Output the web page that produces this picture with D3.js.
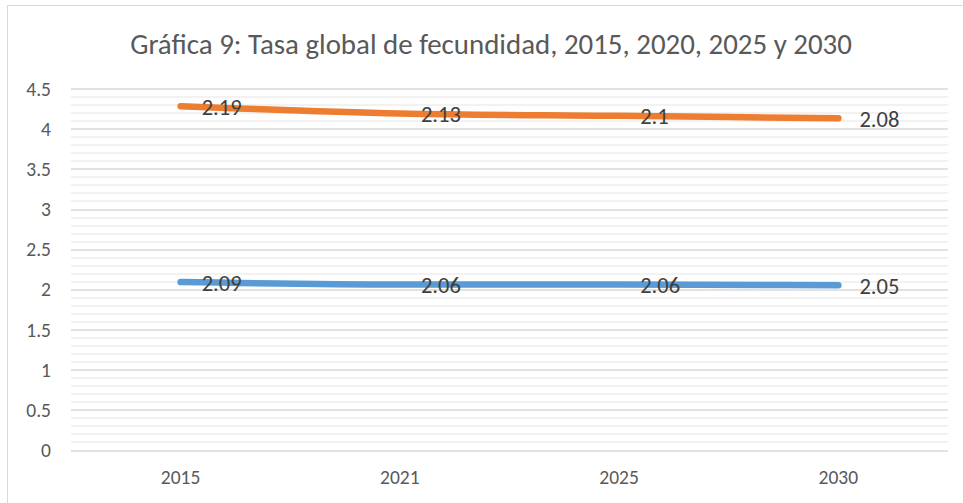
<!DOCTYPE html>
<html>
<head>
<meta charset="utf-8">
<script src="https://cdn.jsdelivr.net/npm/d3@7"></script>
<style>
  body { margin: 0; background: #fff; }
  text { font-family: Carlito, Calibri, Lato, sans-serif; }
</style>
</head>
<body>
<div id="chart"></div>
<script>
var W = 963, H = 503;
var margin = { top: 88.5, right: 15, bottom: 53, left: 71 },
    width = 948 - margin.left,
    height = 450 - margin.top;

var years = ["2015", "2021", "2025", "2030"];
var serieA = [2.09, 2.06, 2.06, 2.05];   // azul
var serieB = [2.19, 2.13, 2.1, 2.08];    // naranja (apilada)
var yTicks = [0, 0.5, 1, 1.5, 2, 2.5, 3, 3.5, 4, 4.5];
var titulo = "Gráfica 9: Tasa global de fecundidad, 2015, 2020, 2025 y 2030";

var svg = d3.select("#chart").append("svg")
    .attr("width", W)
    .attr("height", H);

// ajusta el tamaño de letra para que un texto de muestra tenga el ancho del original
function fitSize(sample, base, target) {
    var tmp = svg.append("text").style("font-size", base + "px").text(sample);
    var w = tmp.node().getComputedTextLength();
    tmp.remove();
    return w > 0 ? base * target / w : base;
}
var tickSize = 19.5;
var labSize = fitSize("2.08", 16, 40);

// marco del grafico
svg.append("rect")
    .attr("x", 7.5).attr("y", 5.5)
    .attr("width", W + 20).attr("height", H + 20)
    .attr("fill", "#fff")
    .attr("stroke", "#d9d9d9");

var g = svg.append("g")
    .attr("transform", "translate(" + margin.left + "," + margin.top + ")");

var x = d3.scaleBand().domain(years).range([0, width]);
var y = d3.scaleLinear().domain([0, 4.5]).range([height, 0]);

// lineas secundarias
var minor = d3.range(0, 45).map(function(i) { return i / 10; }).filter(function(v) { return Math.round(v * 10) % 5 !== 0; });
g.selectAll(".minor").data(minor).enter().append("line")
    .attr("x1", 0).attr("x2", width)
    .attr("y1", function(d) { return Math.round(y(d)) + 0.5; })
    .attr("y2", function(d) { return Math.round(y(d)) + 0.5; })
    .attr("stroke", "#eeeeee").attr("stroke-width", 1.5);

g.selectAll(".major").data(yTicks).enter().append("line")
    .attr("x1", 0).attr("x2", width)
    .attr("y1", function(d) { return Math.round(y(d)) + 0.5; })
    .attr("y2", function(d) { return Math.round(y(d)) + 0.5; })
    .attr("stroke", "#d9d9d9").attr("stroke-width", 1.5);

// eje y
g.selectAll(".ylab").data(yTicks).enter().append("text")
    .attr("x", -20)
    .attr("y", function(d) { return y(d); })
    .attr("dy", "0.36em")
    .attr("text-anchor", "end")
    .attr("font-size", tickSize)
    .attr("fill", "#595959")
    .text(function(d) { return d; });

// eje x
g.selectAll(".xlab").data(years).enter().append("text")
    .attr("x", function(d) { return x(d) + x.bandwidth() / 2; })
    .attr("y", height + 34)
    .attr("text-anchor", "middle")
    .attr("font-size", tickSize)
    .attr("fill", "#595959")
    .text(function(d) { return d; });

// series apiladas
var datos = years.map(function(yr, i) {
    return { year: yr, a: serieA[i], b: serieB[i], topA: serieA[i], topB: serieA[i] + serieB[i] };
});

var lineA = d3.line()
    .x(function(d) { return x(d.year) + x.bandwidth() / 2; })
    .y(function(d) { return y(d.topA); })
    .curve(d3.curveMonotoneX);
var lineB = d3.line()
    .x(function(d) { return x(d.year) + x.bandwidth() / 2; })
    .y(function(d) { return y(d.topB); })
    .curve(d3.curveMonotoneX);

g.append("path").datum(datos).attr("d", lineA)
    .attr("fill", "none").attr("stroke", "#5b9bd5")
    .attr("stroke-width", 6.5).attr("stroke-linecap", "round");
g.append("path").datum(datos).attr("d", lineB)
    .attr("fill", "none").attr("stroke", "#ed7d31")
    .attr("stroke-width", 6.5).attr("stroke-linecap", "round");

// etiquetas de datos
g.selectAll(".labA").data(datos).enter().append("text")
    .attr("x", function(d) { return x(d.year) + x.bandwidth() / 2 + 21; })
    .attr("y", function(d) { return y(d.topA); })
    .attr("dy", "0.38em")
    .style("font-size", labSize + "px")
    .attr("fill", "#404040")
    .text(function(d) { return d.a; });
g.selectAll(".labB").data(datos).enter().append("text")
    .attr("x", function(d) { return x(d.year) + x.bandwidth() / 2 + 21; })
    .attr("y", function(d) { return y(d.topB); })
    .attr("dy", "0.38em")
    .style("font-size", labSize + "px")
    .attr("fill", "#404040")
    .text(function(d) { return d.b; });

// titulo
svg.append("text")
    .attr("x", 491)
    .attr("y", 54)
    .attr("text-anchor", "middle")
    .style("font-size", fitSize(titulo, 24, 722) + "px")
    .style("font-weight", 300)
    .attr("fill", "#595959")
    .text(titulo);
</script>
</body>
</html>
